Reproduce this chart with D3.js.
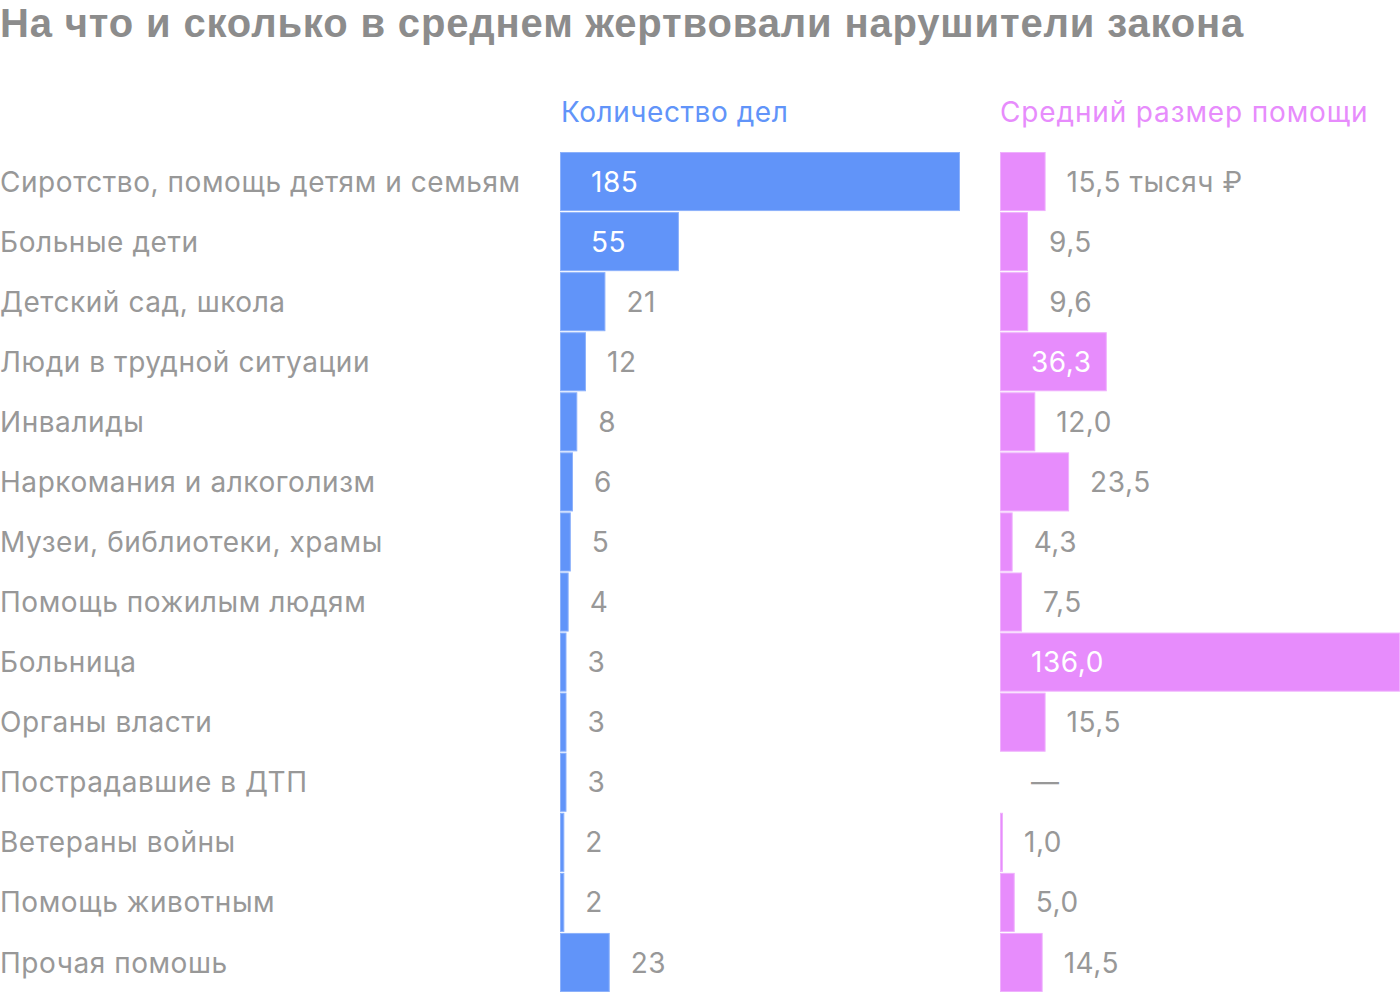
<!DOCTYPE html>
<html><head><meta charset="utf-8">
<script src="https://cdn.jsdelivr.net/npm/d3@7"></script>
<style>
body{margin:0;background:#fff;}
svg{display:block;}
</style></head>
<body>
<svg id="c" width="1400" height="992"></svg>
<script>
const categories = ["Сиротство, помощь детям и семьям","Больные дети","Детский сад, школа","Люди в трудной ситуации","Инвалиды","Наркомания и алкоголизм","Музеи, библиотеки, храмы","Помощь пожилым людям","Больница","Органы власти","Пострадавшие в ДТП","Ветераны войны","Помощь животным","Прочая помошь"];
const cases = [185,55,21,12,8,6,5,4,3,3,3,2,2,23];
const avgHelp = [15.5,9.5,9.6,36.3,12.0,23.5,4.3,7.5,136.0,15.5,null,1.0,5.0,14.5];
const title = "На что и сколько в среднем жертвовали нарушители закона";
const headers = ["Количество дел","Средний размер помощи"];

const svg = d3.select("#c");
const gray = "#989898";
const blue = "#6194f9", blueS = "#8cb1fb";
const pink = "#e78cfc", pinkS = "#efb0fd";
const font = "Inter, Roboto, sans-serif";
const fs = 28, ls = 0.55;

svg.append("text").attr("x",0).attr("y",37).text(title)
  .attr("font-family","'Liberation Sans', Arial, sans-serif").attr("font-weight","bold")
  .attr("font-size",40).attr("letter-spacing",0.85).attr("fill","#8c8c8c");

const y = d3.scaleBand().domain(categories).range([152,992]).paddingInner(1/60).paddingOuter(0);
const xB = d3.scaleLinear().domain([0,185]).range([560,960]);
const xP = d3.scaleLinear().domain([0,136]).range([1000,1400]);

svg.append("text").attr("x",561).attr("y",122).text(headers[0]).attr("font-family",font).attr("font-size",fs).attr("letter-spacing",ls).attr("fill",blue);
svg.append("text").attr("x",1000).attr("y",122).text(headers[1]).attr("font-family",font).attr("font-size",fs).attr("letter-spacing",ls+0.3).attr("fill",pink);

const rows = categories.map((c,i)=>({c, n:cases[i], a:avgHelp[i], i}));

svg.append("g").selectAll("text").data(rows).join("text")
  .attr("x",0).attr("y",d=>y(d.c)+y.bandwidth()/2).attr("dy","0.36em")
  .attr("font-family",font).attr("font-size",fs).attr("letter-spacing",ls).attr("fill",gray).text(d=>d.c);

function drawBars(acc, x, fill, stroke, fmt, threshold, suffix0){
  const g = svg.append("g");
  const data = rows.filter(d=>acc(d)!=null);
  g.selectAll("rect").data(data).join("rect")
    .attr("x",x(0)+0.5).attr("y",d=>y(d.c)+0.5)
    .attr("width",d=>Math.max(0.5,x(acc(d))-x(0)-1)).attr("height",y.bandwidth()-1)
    .attr("fill",fill).attr("stroke",stroke).attr("stroke-width",1);
  g.selectAll("text").data(rows).join("text")
    .attr("y",d=>y(d.c)+y.bandwidth()/2).attr("dy","0.36em")
    .attr("font-family",font).attr("font-size",fs).attr("letter-spacing",ls)
    .attr("x",d=>{const v=acc(d); if(v==null) return x(0)+31; return v>=threshold? x(0)+31 : x(v)+21;})
    .attr("fill",d=>{const v=acc(d); return (v!=null && v>=threshold)?"#fff":gray;})
    .text(d=>{const v=acc(d); if(v==null) return "—"; return fmt(v)+(d.i===0?suffix0:"");});
}
drawBars(d=>d.n, xB, blue, blueS, v=>String(v), 50, "");
drawBars(d=>d.a, xP, pink, pinkS, v=>v.toFixed(1).replace(".",","), 30, " тысяч ₽");
</script>
</body></html>
